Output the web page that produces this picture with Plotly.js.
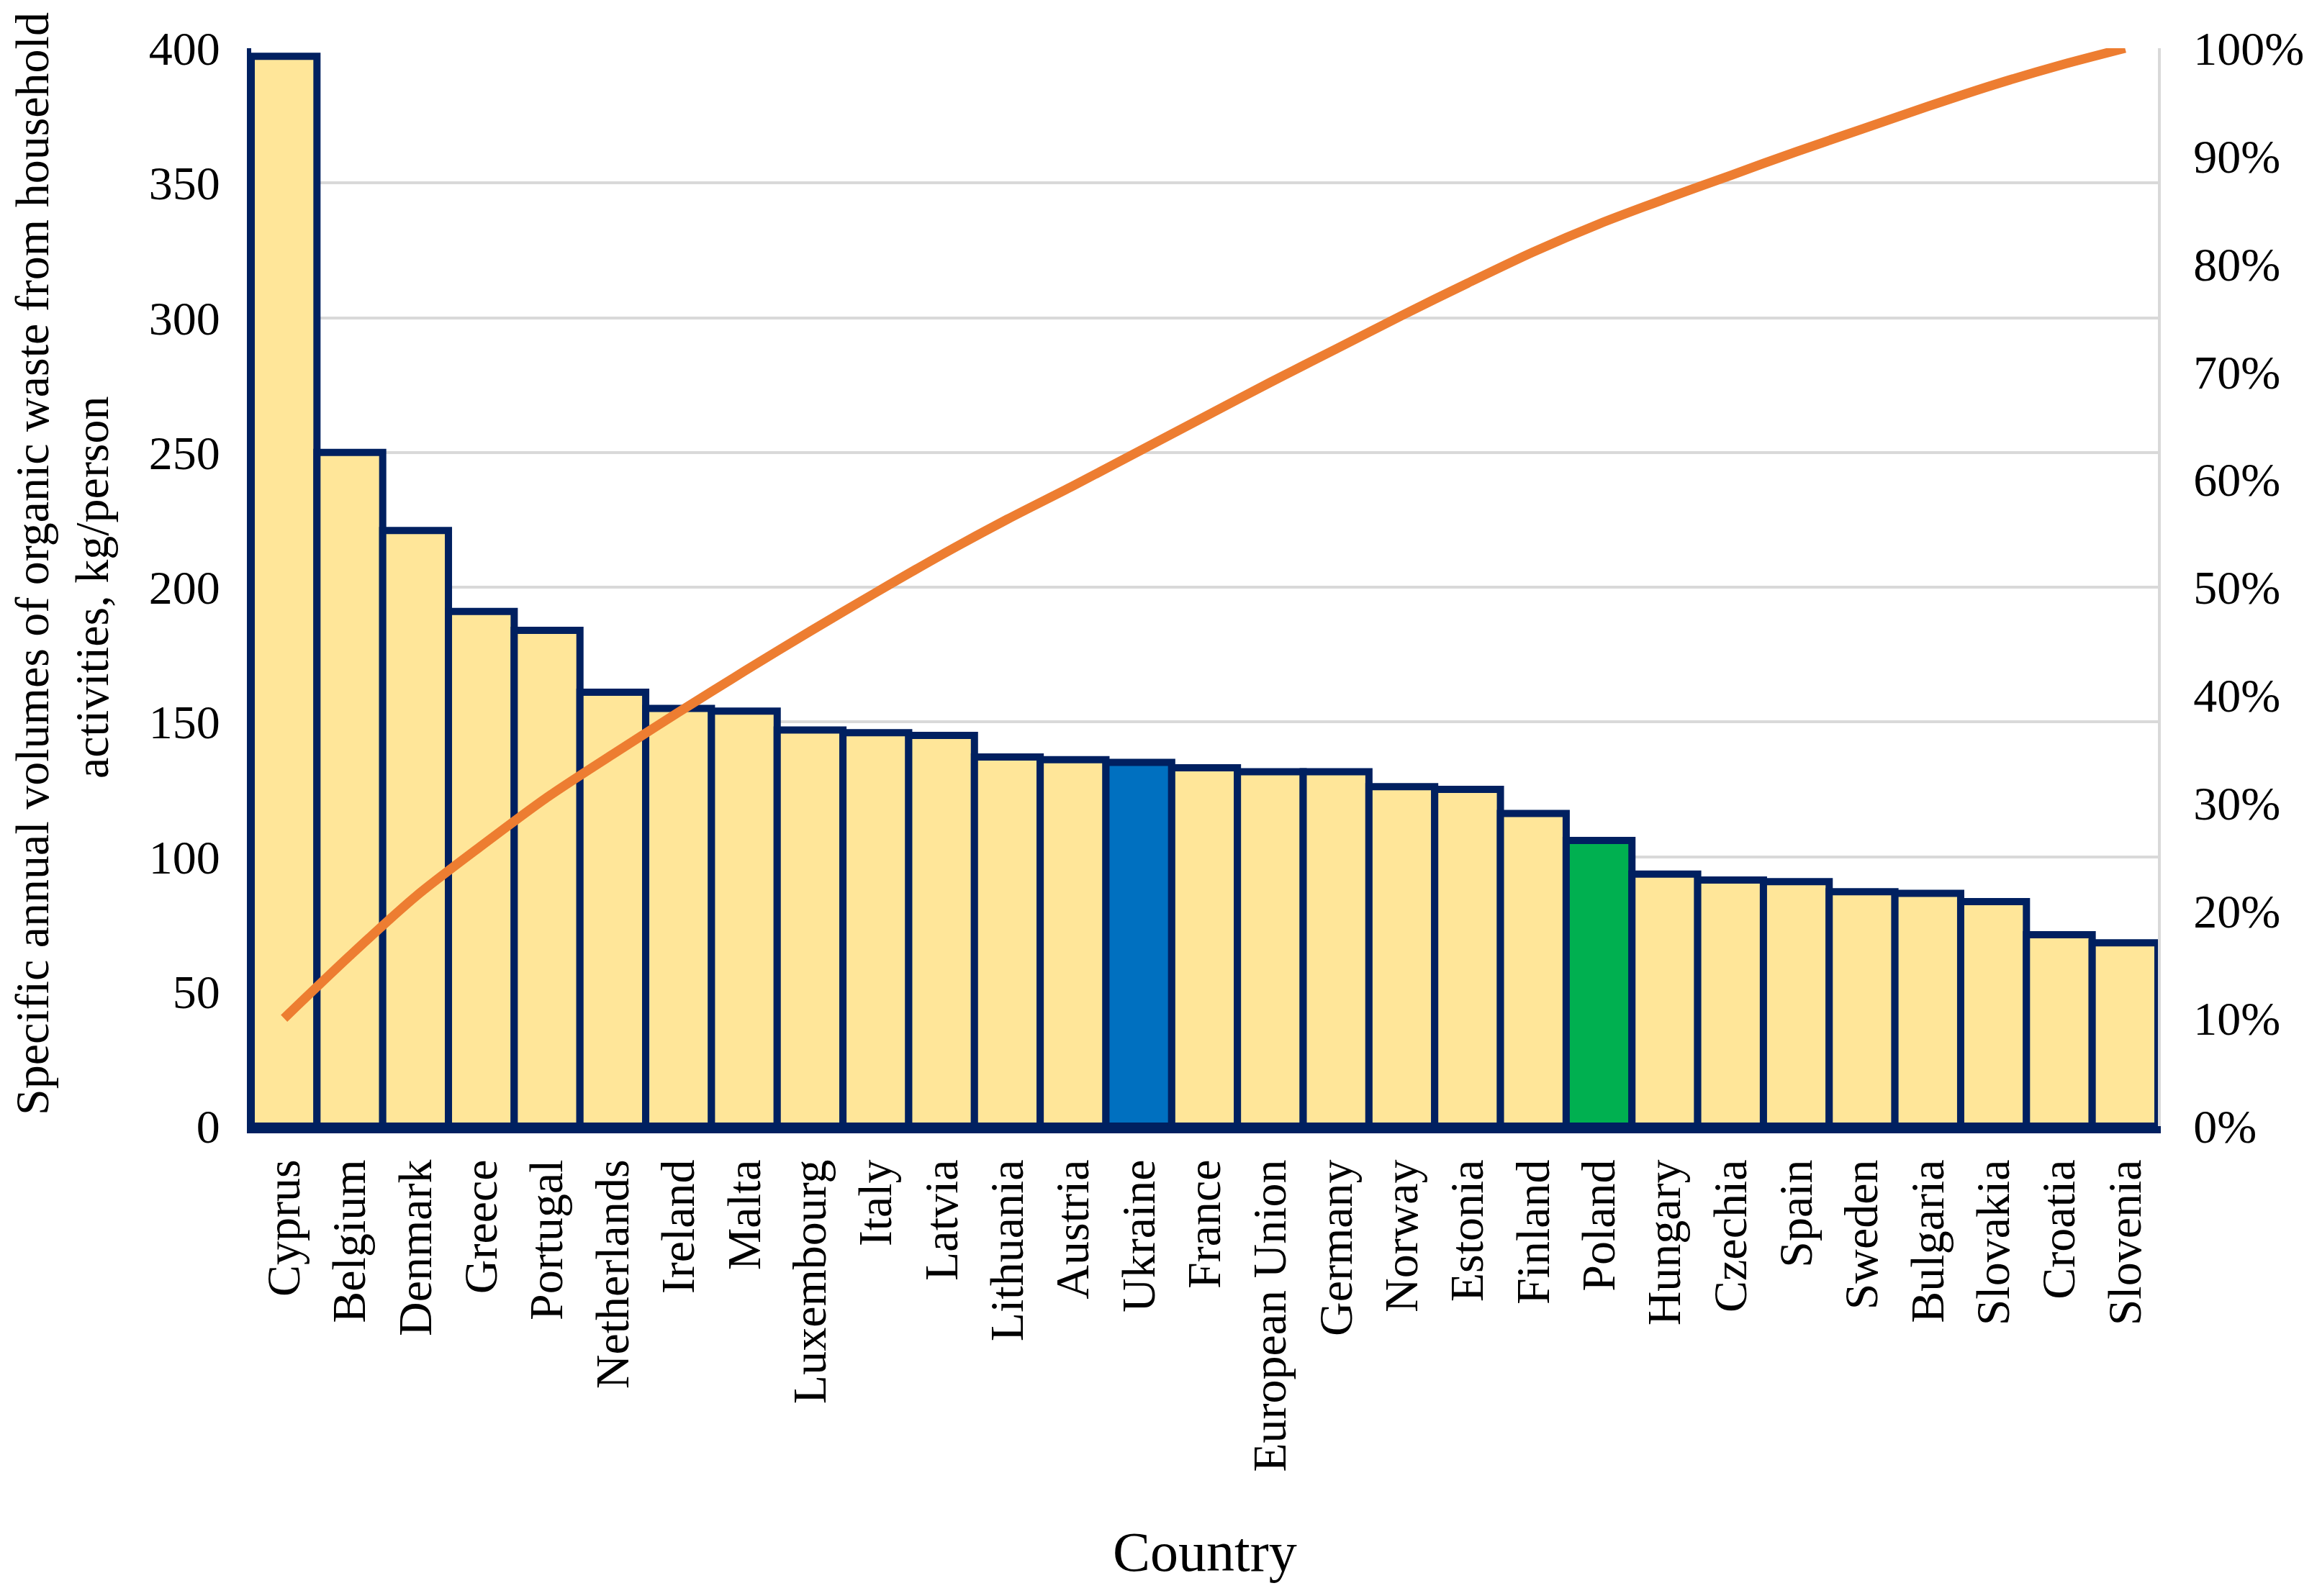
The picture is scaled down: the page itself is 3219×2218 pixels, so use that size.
<!DOCTYPE html>
<html>
<head>
<meta charset="utf-8">
<script src="https://cdn.plot.ly/plotly-3.0.1.min.js"></script>
<style>html,body{margin:0;padding:0;background:#fff;}#chart{width:3219px;height:2218px;}</style>
</head>
<body>
<div id="chart"></div>
<script>
// Data
const countries = ["Cyprus","Belgium","Denmark","Greece","Portugal","Netherlands","Ireland","Malta","Luxembourg","Italy","Latvia","Lithuania","Austria","Ukraine","France","European Union","Germany","Norway","Estonia","Finland","Poland","Hungary","Czechia","Spain","Sweden","Bulgaria","Slovakia","Croatia","Slovenia"];
const wasteKgPerPerson = [397,250,221,191,184,161,155,154,147,146,145,137,136,135,133,131.5,131.5,126,125,116,106,93.5,91.3,90.7,87,86.4,83.3,71,68];
const cumulativeShare = [0.100,0.158,0.213,0.260,0.305,0.345,0.384,0.422,0.459,0.495,0.530,0.563,0.594,0.626,0.658,0.690,0.721,0.752,0.782,0.811,0.837,0.860,0.882,0.904,0.925,0.946,0.966,0.984,1.000];
const leftTicks = [0,50,100,150,200,250,300,350,400];
const rightTicks = [0,0.1,0.2,0.3,0.4,0.5,0.6,0.7,0.8,0.9,1.0];

const highlight = {"Ukraine":"#0070C0","Poland":"#00B050"};
const barColors = countries.map(c => highlight[c] || "#FFE699");

const FONT = "Liberation Serif, Times New Roman, serif";

const bars = {
  type: "bar",
  x: countries,
  y: wasteKgPerPerson,
  marker: {color: barColors, line: {color: "#002060", width: 10}},
  width: 1,
  hoverinfo: "x+y",
  showlegend: false
};
const cum = {
  type: "scatter",
  mode: "lines",
  x: countries,
  y: cumulativeShare,
  yaxis: "y2",
  line: {color: "#ED7D31", width: 13, shape: "spline", smoothing: 0.8},
  showlegend: false
};

const layout = {
  width: 3219,
  height: 2218,
  margin: {l: 349, r: 221, t: 67, b: 653, pad: 0},
  paper_bgcolor: "#ffffff",
  plot_bgcolor: "#ffffff",
  bargap: 0,
  font: {family: FONT, size: 66, color: "#000"},
  xaxis: {
    type: "category",
    range: [-0.5, countries.length - 0.5],
    tickangle: -90,
    ticks: "",
    ticklabelstandoff: 10,
    showgrid: false,
    showline: true,
    linecolor: "#002060",
    linewidth: 10,
    tickfont: {family: FONT, size: 66, color: "#000"},
    zeroline: false
  },
  yaxis: {
    range: [0, 400],
    tickvals: leftTicks,
    ticks: "",
    ticklabelstandoff: 24,
    showgrid: true,
    gridcolor: "#D9D9D9",
    gridwidth: 4,
    showline: true,
    linecolor: "#002060",
    linewidth: 6,
    zeroline: false,
    tickfont: {family: FONT, size: 66, color: "#000"}
  },
  yaxis2: {
    overlaying: "y",
    side: "right",
    range: [0, 1],
    tickvals: rightTicks,
    tickformat: ".0%",
    ticks: "",
    ticklabelstandoff: 32,
    showgrid: false,
    showline: true,
    linecolor: "#D9D9D9",
    linewidth: 4,
    zeroline: false,
    tickfont: {family: FONT, size: 66, color: "#000"}
  },
  annotations: [
    {text: "Specific annual volumes of organic waste from household", xref: "paper", yref: "paper",
     x: (45 - 349) / 2649, y: 0.5214, xanchor: "center", yanchor: "middle", textangle: -90, showarrow: false,
     font: {family: FONT, size: 66, color: "#000"}},
    {text: "activities, kg/person", xref: "paper", yref: "paper",
     x: (127 - 349) / 2649, y: 0.5, xanchor: "center", yanchor: "middle", textangle: -90, showarrow: false,
     font: {family: FONT, size: 66, color: "#000"}},
    {text: "Country", xref: "paper", yref: "paper",
     x: 0.5, y: -(2156 - 1565) / 1498, xanchor: "center", yanchor: "middle", showarrow: false,
     font: {family: FONT, size: 78, color: "#000"}}
  ]
};

Plotly.newPlot("chart", [bars, cum], layout, {staticPlot: true});
</script>
</body>
</html>
